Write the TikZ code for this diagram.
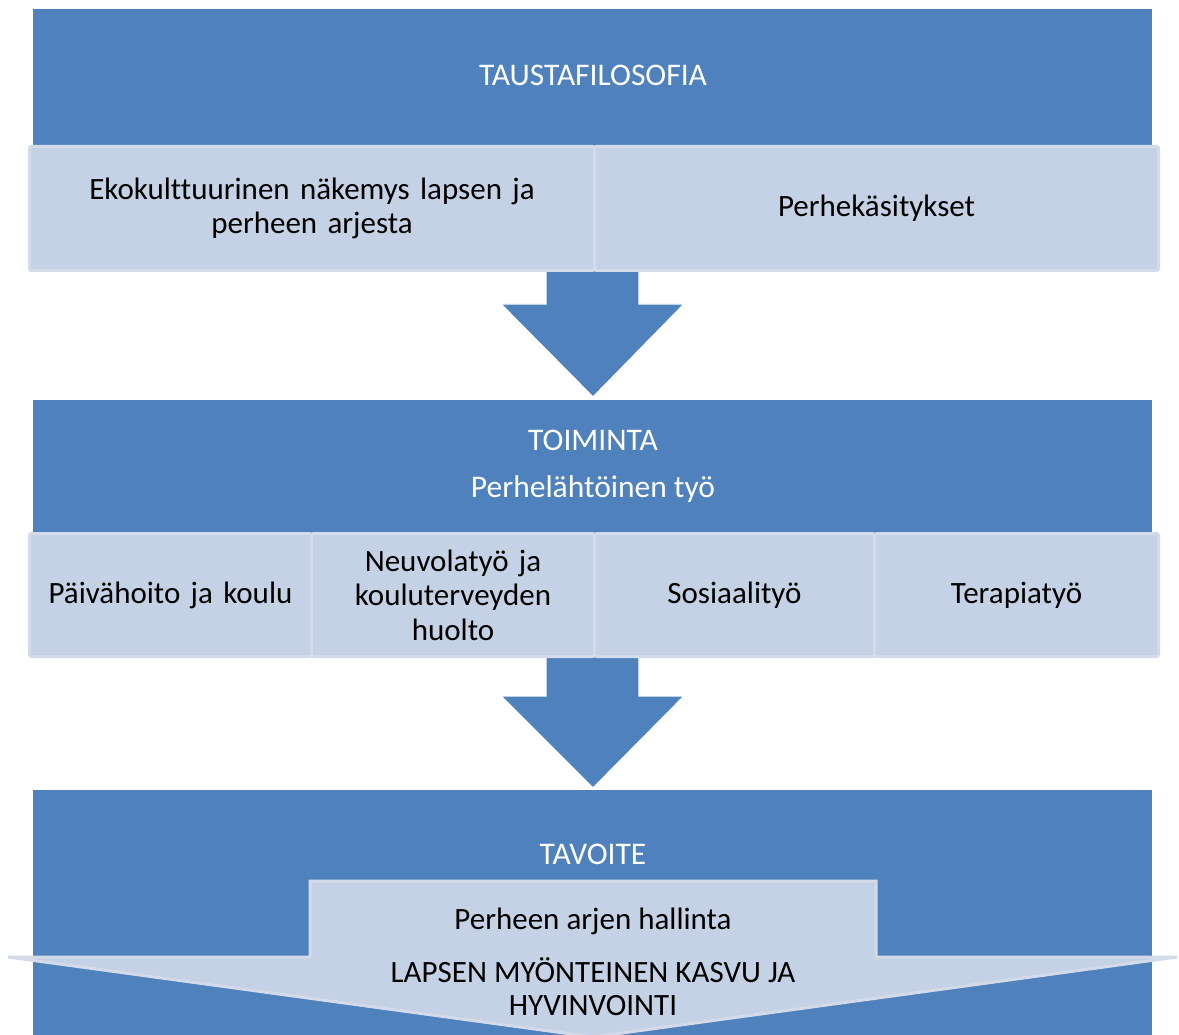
\documentclass[tikz,border=0pt]{standalone}
\usepackage{fontspec}
\setmainfont{Carlito}[Ligatures=NoCommon]
\definecolor{boxblue}{HTML}{4F81BD}
\definecolor{boxlight}{HTML}{C5D1E4}
\definecolor{boxedge}{HTML}{D3DAE9}
\begin{document}
\begin{tikzpicture}[x=1pt,y=-1pt,
  band/.style={fill=boxblue, draw=none, inner sep=0pt, anchor=north west},
  cell/.style={fill=boxlight, draw=boxedge, line width=3pt, rounded corners=2pt,
    inner sep=4pt, anchor=north west, align=center,
    font=\fontsize{31}{34.5}\selectfont},
  blockarrow/.style={fill=boxblue, draw=white, line width=1.2pt},
  hdr/.style={text=white, font=\fontsize{31.5}{34}\selectfont, inner sep=0pt},
  lbl/.style={text=black, font=\fontsize{31}{33}\selectfont, align=center, inner sep=0pt},
]
\useasboundingbox[fill=white] (0,0) rectangle (1179,1035);

% blue bands
\node[band, minimum width=1119pt, minimum height=258pt] (band1) at (33,9) {};
\node[band, minimum width=1119pt, minimum height=250pt] (band2) at (33,400) {};
\node[band, minimum width=1119pt, minimum height=245pt] (band3) at (33,790) {};

% block arrows between the stages
\path[blockarrow] (546,262) -- (639,262) -- (639,304) -- (684,304) -- (593,397)
  -- (501,304) -- (546,304) -- cycle;
\path[blockarrow] (546,650) -- (639,650) -- (639,696) -- (684,696) -- (593,788)
  -- (501,696) -- (546,696) -- cycle;
\fill[boxblue] (33,790) rectangle (1152,800);

% band titles
\node[hdr] (t1) at (593,75) {TAUSTAFILOSOFIA};
\node[hdr] (t2) at (593,440) {TOIMINTA};
\node[hdr] (t2b) at (593,489) {Perhelähtöinen työ};
\node[hdr] (t3) at (593,854) {TAVOITE};

% first row of cells
\node[cell, minimum width=565pt, minimum height=124pt, text width=520pt] (eko) at (28,145)
  {Ekokulttuurinen näkemys lapsen ja\\perheen arjesta};
\node[cell, minimum width=564pt, minimum height=124pt, text width=520pt] (perhe) at (593,145)
  {Perhekäsitykset};

% second row of cells
\node[cell, minimum width=282pt, minimum height=123pt, text width=272pt] (paiva) at (28,532)
  {Päivähoito ja koulu};
\node[cell, minimum width=283pt, minimum height=123pt, text width=272pt] (neuvola) at (310,532)
  {Neuvolatyö ja\\kouluterveyden\\huolto};
\node[cell, minimum width=280pt, minimum height=123pt, text width=270pt] (sosiaali) at (593,532)
  {Sosiaalityö};
\node[cell, minimum width=284pt, minimum height=123pt, text width=272pt] (terapia) at (873,532)
  {Terapiatyö};

% goal shape: tab with a wide downward arrowhead
\path[fill=boxlight, draw=boxedge, line width=3pt, line join=miter]
  (310,881) -- (876,881) -- (876,957) -- (1177,957) -- (593,1037)
  -- (8,957) -- (310,957) -- cycle;
\node[lbl] (goal1) at (593,921) {Perheen arjen hallinta};
\node[lbl] (goal2) at (593,987) {LAPSEN MYÖNTEINEN KASVU JA\\HYVINVOINTI};
\end{tikzpicture}
\end{document}
